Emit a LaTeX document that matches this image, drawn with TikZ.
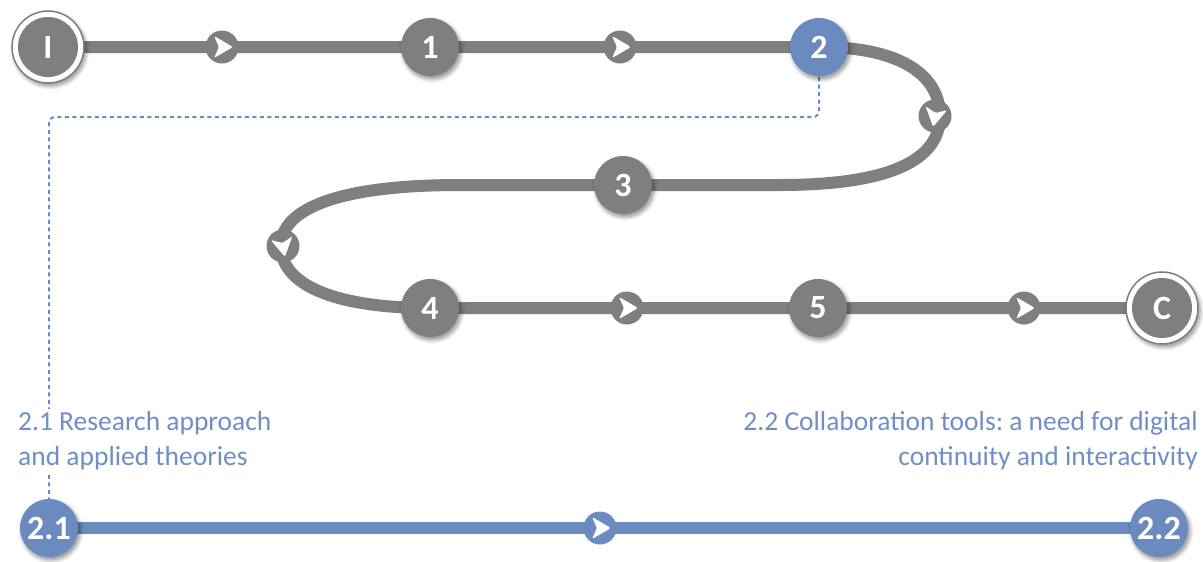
\documentclass[tikz,border=0pt]{standalone}
\usepackage{fontspec}
\setmainfont{Carlito}
\usetikzlibrary{shadows.blur}
\frenchspacing
\definecolor{gline}{RGB}{127,127,127}
\definecolor{bline}{RGB}{106,138,192}
\definecolor{btext}{RGB}{111,143,198}
\tikzset{
  shad/.style={blur shadow={shadow xshift=2pt,shadow yshift=-3pt,shadow blur steps=8,shadow opacity=45,shadow blur radius=4pt}},
  numnode/.style={circle,fill=gline,minimum size=58pt,inner sep=0pt,text=white,font=\bfseries\fontsize{34}{34}\selectfont,shad},
  bnumnode/.style={numnode,fill=bline},
  endnode/.style={circle,fill=white,draw=gline,line width=1.5pt,minimum size=72pt,inner sep=0pt,text=white,
    font=\bfseries\fontsize{34}{34}\selectfont,shad,
    path picture={\fill[gline] (path picture bounding box.center) circle[radius=30pt];}},
  gpath/.style={draw=gline,line width=12pt},
  bpath/.style={draw=bline,line width=12pt},
  dotline/.style={draw=bline,line width=2pt,dash pattern=on 4pt off 3.5pt,rounded corners=6pt},
  chev/.pic={\fill[#1] (0,0) circle[radius=16.5pt];
     \fill[white,rounded corners=1.5pt] (11pt,0pt) -- (-8pt,11pt) -- (-3pt,0pt) -- (-8pt,-11pt) -- cycle;},
  labeltext/.style={text=btext,font=\fontsize{27.5}{35}\selectfont,inner sep=0pt}
}
\begin{document}
\begin{tikzpicture}[x=1pt,y=-1pt]
\useasboundingbox (0,0) rectangle (1203,562);
% coordinates
\coordinate (pI) at (48,47);
\coordinate (p1) at (430,47);
\coordinate (p2) at (819,47);
\coordinate (p3) at (623,185);
\coordinate (p4) at (430,308);
\coordinate (p5) at (818,308);
\coordinate (pC) at (1162,308);
\coordinate (p21) at (49,528);
\coordinate (p22) at (1159,528);
\coordinate (d1) at (819,117);
\coordinate (d2) at (49,117);
% connectors
\draw[dotline] (p2) -- (d1) -- (d2) -- (p21);
\path[gpath] (pI) -- (p1) -- (p2) .. controls (905,47) and (940,78) .. (940,116)
   .. controls (940,160) and (890,185) .. (780,185) -- (p3)
   -- (460,185) .. controls (335,185) and (281,210) .. (281,246)
   .. controls (281,285) and (335,308) .. (p4) -- (p5) -- (pC);
\path[bpath] (p21) -- (p22);
% markers
\pic at (222,47) {chev=gline};
\pic at (620,47) {chev=gline};
\pic[rotate=-100] at (935,116) {chev=gline};
\pic[rotate=-80] at (283,246) {chev=gline};
\pic at (627,308) {chev=gline};
\pic at (1024,308) {chev=gline};
\pic at (600,528) {chev=bline};
% nodes
\node[endnode] (nI) at (pI) {I};
\node[numnode] (n1) at (p1) {1};
\node[bnumnode] (n2) at (p2) {2};
\node[numnode] (n3) at (p3) {3};
\node[numnode] (n4) at (p4) {4};
\node[numnode] (n5) at (p5) {5};
\node[endnode] (nC) at (pC) {C};
\node[bnumnode] (n21) at (p21) {2.1};
\node[bnumnode] (n22) at (p22) {2.2};
% labels
\node[labeltext,fill=white,align=left,anchor=north west,inner sep=2pt] (t21) at (16,409)
  {2.1 Research approach\\and applied theories};
\node[labeltext,align=right,anchor=north east] (t22) at (1198,411)
  {2.2 Collaboration tools: a need for digital\\continuity and interactivity};
\end{tikzpicture}
\end{document}
